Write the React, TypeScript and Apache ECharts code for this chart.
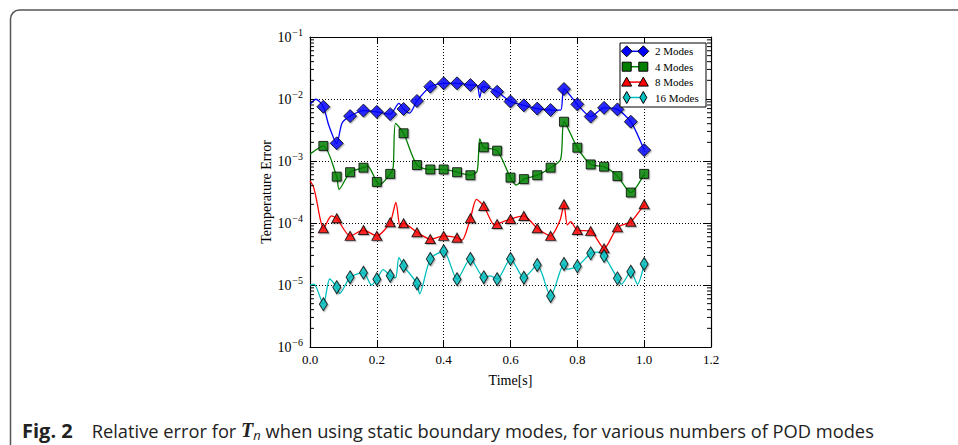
import React, { useEffect, useRef } from "react";
import * as echarts from "echarts";

// ---------- data ----------
const MARK_T = [0.04, 0.08, 0.12, 0.16, 0.2, 0.24, 0.28, 0.32, 0.36, 0.4, 0.44, 0.48, 0.52, 0.56, 0.6, 0.64, 0.68, 0.72, 0.76, 0.8, 0.84, 0.88, 0.92, 0.96, 1.0];

const MODES2_MARKS = [7.5e-3, 1.93e-3, 5.3e-3, 6.5e-3, 6.2e-3, 5.7e-3, 6.9e-3, 9.3e-3, 1.58e-2, 1.79e-2, 1.79e-2, 1.68e-2, 1.58e-2, 1.31e-2, 9.1e-3, 7.9e-3, 7.0e-3, 6.65e-3, 1.45e-2, 8.2e-3, 5.2e-3, 7.2e-3, 6.8e-3, 4.3e-3, 1.5e-3];
const MODES4_MARKS = [1.75e-3, 5.6e-4, 6.6e-4, 7.8e-4, 4.6e-4, 6.2e-4, 2.8e-3, 8.6e-4, 7.3e-4, 7.3e-4, 6.6e-4, 5.9e-4, 1.66e-3, 1.47e-3, 5.4e-4, 5.1e-4, 5.9e-4, 7.8e-4, 4.3e-3, 1.64e-3, 8.8e-4, 8.1e-4, 5.7e-4, 3.1e-4, 6.2e-4];
const MODES8_MARKS = [8.2e-5, 1.19e-4, 6.2e-5, 7.7e-5, 6.2e-5, 1.03e-4, 9.9e-5, 7.1e-5, 5.5e-5, 6.2e-5, 5.8e-5, 1.19e-4, 1.88e-4, 9.6e-5, 1.16e-4, 1.3e-4, 8.2e-5, 6.2e-5, 2.0e-4, 7.7e-5, 7.4e-5, 3.9e-5, 8.5e-5, 1.05e-4, 2.0e-4];
const MODES16_MARKS = [4.9e-6, 9.2e-6, 1.33e-5, 1.58e-5, 1.24e-5, 1.41e-5, 2.04e-5, 1.06e-5, 2.63e-5, 3.5e-5, 1.24e-5, 2.63e-5, 1.33e-5, 1.24e-5, 2.63e-5, 1.31e-5, 2.1e-5, 6.65e-6, 2.18e-5, 2.0e-5, 3.24e-5, 2.94e-5, 1.28e-5, 1.64e-5, 2.18e-5];

// fine-resolution curves
const MODES2_CURVE = [[0, 8.2e-3], [0.018, 9.9e-3], [0.04, 7.5e-3], [0.056, 3.8e-3], [0.08, 1.93e-3], [0.096, 4.1e-3], [0.12, 5.3e-3], [0.16, 6.5e-3], [0.2, 6.2e-3], [0.24, 5.7e-3], [0.266, 8.5e-3], [0.28, 6.9e-3], [0.298, 5.9e-3], [0.32, 9.3e-3], [0.36, 1.58e-2], [0.4, 1.79e-2], [0.44, 1.79e-2], [0.48, 1.68e-2], [0.5, 1.65e-2], [0.508, 1.06e-2], [0.515, 1.55e-2], [0.52, 1.58e-2], [0.56, 1.31e-2], [0.6, 9.1e-3], [0.64, 7.9e-3], [0.68, 7.0e-3], [0.72, 6.65e-3], [0.75, 6.6e-3], [0.76, 1.45e-2], [0.8, 8.2e-3], [0.84, 5.2e-3], [0.88, 7.2e-3], [0.92, 6.8e-3], [0.96, 4.3e-3], [1.0, 1.5e-3]];
const MODES4_CURVE = [[0, 1.29e-3], [0.04, 1.75e-3], [0.08, 5.6e-4], [0.087, 3.5e-4], [0.12, 6.6e-4], [0.16, 7.8e-4], [0.172, 8.3e-4], [0.2, 4.6e-4], [0.209, 4.2e-4], [0.24, 6.2e-4], [0.249, 8.0e-4], [0.256, 4.05e-3], [0.28, 2.8e-3], [0.32, 8.6e-4], [0.36, 7.3e-4], [0.4, 7.3e-4], [0.44, 6.6e-4], [0.48, 5.9e-4], [0.5, 6.8e-4], [0.508, 2.3e-3], [0.52, 1.66e-3], [0.56, 1.47e-3], [0.6, 5.4e-4], [0.617, 4.1e-4], [0.64, 5.1e-4], [0.68, 5.9e-4], [0.72, 7.8e-4], [0.75, 1.06e-3], [0.76, 4.3e-3], [0.8, 1.64e-3], [0.84, 8.8e-4], [0.88, 8.1e-4], [0.92, 5.7e-4], [0.96, 3.1e-4], [1.0, 6.2e-4]];
const MODES8_CURVE = [[0, 4.8e-4], [0.01, 3.9e-4], [0.02, 2.3e-4], [0.03, 1.2e-4], [0.04, 8.2e-5], [0.064, 1.3e-4], [0.08, 1.19e-4], [0.12, 6.2e-5], [0.16, 7.7e-5], [0.2, 6.2e-5], [0.24, 1.03e-4], [0.257, 2.15e-4], [0.27, 8.5e-5], [0.28, 9.9e-5], [0.32, 7.1e-5], [0.36, 5.5e-5], [0.4, 6.2e-5], [0.44, 5.8e-5], [0.455, 5.3e-5], [0.48, 1.19e-4], [0.498, 2.4e-4], [0.52, 1.88e-4], [0.552, 9.3e-5], [0.56, 9.6e-5], [0.6, 1.16e-4], [0.64, 1.3e-4], [0.68, 8.2e-5], [0.72, 6.2e-5], [0.748, 1.1e-4], [0.76, 2.0e-4], [0.77, 9.3e-5], [0.78, 1.05e-4], [0.8, 7.7e-5], [0.84, 7.4e-5], [0.88, 3.9e-5], [0.92, 8.5e-5], [0.96, 1.05e-4], [1.0, 2.0e-4]];
const MODES16_CURVE = [[0, 1.0e-5], [0.012, 1.03e-5], [0.04, 4.9e-6], [0.059, 1.25e-5], [0.08, 9.2e-6], [0.089, 7.3e-6], [0.12, 1.33e-5], [0.16, 1.58e-5], [0.184, 1.0e-5], [0.2, 1.24e-5], [0.219, 1.77e-5], [0.24, 1.41e-5], [0.256, 1.3e-5], [0.266, 2.75e-5], [0.28, 2.04e-5], [0.32, 1.06e-5], [0.328, 7.2e-6], [0.36, 2.63e-5], [0.4, 3.5e-5], [0.44, 1.24e-5], [0.48, 2.63e-5], [0.52, 1.33e-5], [0.54, 1.4e-5], [0.56, 1.24e-5], [0.6, 2.63e-5], [0.64, 1.31e-5], [0.68, 2.1e-5], [0.72, 6.65e-6], [0.76, 2.18e-5], [0.768, 1.8e-5], [0.8, 2.0e-5], [0.84, 3.24e-5], [0.86, 3.4e-5], [0.88, 2.94e-5], [0.92, 1.28e-5], [0.932, 1.03e-5], [0.96, 1.64e-5], [0.98, 1.03e-5], [1.0, 2.18e-5]];

const SERIES_NAMES = ["2 Modes", "4 Modes", "8 Modes", "16 Modes"];
const X_MIN = 0;
const X_MAX = 1.2;
const X_STEP = 0.2;
const Y_MIN = 1e-6;
const Y_MAX = 1e-1;
const CAPTION_FIG = "Fig. 2";
const CAPTION_A = "Relative error for ";
const CAPTION_B = " when using static boundary modes, for various numbers of POD modes";

// ---------- styles ----------
const COLORS = ["#0000ff", "#007f00", "#ff0000", "#00bfbf"];
const SYMBOLS = ["diamond", "rect", "triangle", "diamond"];
const SYMBOL_SIZES: any[] = [[13, 13], [9, 9], [10, 9], [8, 13]];
const SERIF = "'Liberation Serif', 'DejaVu Serif', serif";
const SANS = "'Open Sans', 'Noto Sans', sans-serif";

function minorTickValues() {
  const out: number[] = [];
  for (let e = -6; e <= -2; e++) {
    for (let k = 2; k <= 9; k++) out.push(k * Math.pow(10, e));
  }
  return out;
}

export default function App() {
  const ref = useRef<HTMLDivElement>(null);
  useEffect(() => {
    if (!ref.current) return;
    const chart = echarts.init(ref.current, null, { renderer: "svg" });

    const curves = [MODES2_CURVE, MODES4_CURVE, MODES8_CURVE, MODES16_CURVE];
    const marks = [MODES2_MARKS, MODES4_MARKS, MODES8_MARKS, MODES16_MARKS];

    const lineSeries = curves.map((c, i) => ({
      type: "line",
      name: SERIES_NAMES[i] + " line",
      data: c,
      smooth: 0.25,
      showSymbol: false,
      symbol: "none",
      lineStyle: { color: COLORS[i], width: 1.3 },
      z: 3,
    }));
    const markSeries = marks.map((m, i) => ({
      type: "scatter",
      name: SERIES_NAMES[i],
      data: MARK_T.map((t, j) => [t, m[j]]),
      symbol: SYMBOLS[i],
      symbolSize: SYMBOL_SIZES[i],
      itemStyle: {
        color: COLORS[i],
        borderColor: "#000",
        borderWidth: 1,
        shadowColor: "rgba(0,0,0,0.3)",
        shadowOffsetX: 1.2,
        shadowOffsetY: 1.2,
        shadowBlur: 0,
      },
      z: 4,
    }));

    const minorSeries = {
      type: "custom",
      name: "minor",
      data: minorTickValues().map((v) => [X_MIN, v]),
      silent: true,
      clip: false,
      renderItem: (params: any, api: any) => {
        const v = api.value(1);
        const pL = api.coord([X_MIN, v]);
        const pR = api.coord([X_MAX, v]);
        return {
          type: "group",
          children: [
            { type: "line", shape: { x1: pL[0], y1: pL[1], x2: pL[0] + 4, y2: pL[1] }, style: { stroke: "#000", lineWidth: 1 } },
            { type: "line", shape: { x1: pR[0] - 4, y1: pR[1], x2: pR[0], y2: pR[1] }, style: { stroke: "#000", lineWidth: 1 } },
          ],
        };
      },
      z: 5,
    };

    // legend (drawn by hand: line with marker at both ends)
    const legX = 620, legY = 43, legW = 86, legH = 64;
    const legendChildren: any[] = [
      { type: "rect", z: 50, shape: { x: legX, y: legY, width: legW, height: legH }, style: { fill: "#fff", stroke: "#000", lineWidth: 1 } },
    ];
    const markerShape = (i: number, cx: number, cy: number) => {
      const st = { fill: COLORS[i], stroke: "#000", lineWidth: 1 };
      if (i === 0) return { type: "polygon", z: 52, shape: { points: [[cx, cy - 5.5], [cx + 5.5, cy], [cx, cy + 5.5], [cx - 5.5, cy]] }, style: st };
      if (i === 1) return { type: "rect", z: 52, shape: { x: cx - 4.5, y: cy - 4.5, width: 9, height: 9 }, style: st };
      if (i === 2) return { type: "polygon", z: 52, shape: { points: [[cx, cy - 5], [cx + 5, cy + 4], [cx - 5, cy + 4]] }, style: st };
      return { type: "polygon", z: 52, shape: { points: [[cx, cy - 6], [cx + 3.5, cy], [cx, cy + 6], [cx - 3.5, cy]] }, style: st };
    };
    SERIES_NAMES.forEach((name, i) => {
      const cy = 51.3 + i * 15.4;
      legendChildren.push({ type: "line", z: 51, shape: { x1: 626.7, y1: cy, x2: 643.3, y2: cy }, style: { stroke: COLORS[i], lineWidth: 1.5 } });
      legendChildren.push(markerShape(i, 626.7, cy));
      legendChildren.push(markerShape(i, 643.3, cy));
      legendChildren.push({
        type: "text",
        z: 52,
        x: 655,
        y: cy,
        style: { text: name, fill: "#000", font: `11px ${SERIF}`, verticalAlign: "middle", align: "left" },
      });
    });

    const option: any = {
      animation: false,
      backgroundColor: "#fff",
      grid: { left: 310, right: 247, top: 37, bottom: 98, containLabel: false, outerBoundsMode: "none" },
      xAxis: [
        {
          type: "value",
          min: X_MIN,
          max: X_MAX,
          interval: X_STEP,
          position: "bottom",
          name: "Time[s]",
          nameLocation: "middle",
          nameGap: 26,
          nameTextStyle: { color: "#000", fontFamily: SERIF, fontSize: 14 },
          axisLine: { onZero: false, lineStyle: { color: "#000", width: 1.2 } },
          axisTick: { inside: true, length: 6, lineStyle: { color: "#000" } },
          axisLabel: { color: "#000", fontFamily: SERIF, fontSize: 13, margin: 6, formatter: (v: number) => v.toFixed(1) },
          splitLine: { show: true, lineStyle: { color: "#000", type: [1, 2], width: 1 } },
        },
        {
          type: "value",
          min: X_MIN,
          max: X_MAX,
          interval: X_STEP,
          position: "top",
          axisLine: { onZero: false, lineStyle: { color: "#000", width: 1.2 } },
          axisTick: { inside: true, length: 6, lineStyle: { color: "#000" } },
          axisLabel: { show: false },
          splitLine: { show: false },
        },
      ],
      yAxis: [
        {
          type: "log",
          logBase: 10,
          min: Y_MIN,
          max: Y_MAX,
          position: "left",
          name: "Temperature Error",
          nameLocation: "middle",
          nameGap: 35,
          nameRotate: 90,
          nameTextStyle: { color: "#000", fontFamily: SERIF, fontSize: 14 },
          axisLine: { onZero: false, lineStyle: { color: "#000", width: 1.2 } },
          axisTick: { inside: true, length: 7, lineStyle: { color: "#000" } },
          axisLabel: {
            color: "#000",
            margin: 7,
            formatter: (v: number) => {
              const e = Math.round(Math.log10(v));
              return `{b|10}{s|\u2212${Math.abs(e)}}`;
            },
            rich: {
              b: { fontFamily: SERIF, fontSize: 14, color: "#000" },
              s: { fontFamily: SERIF, fontSize: 10, color: "#000", padding: [0, 0, 9, 1] },
            },
          },
          splitLine: { show: true, lineStyle: { color: "#000", type: [1, 2], width: 1 } },
        },
        {
          type: "log",
          logBase: 10,
          min: Y_MIN,
          max: Y_MAX,
          position: "right",
          axisLine: { onZero: false, lineStyle: { color: "#000", width: 1.2 } },
          axisTick: { inside: true, length: 7, lineStyle: { color: "#000" } },
          axisLabel: { show: false },
          splitLine: { show: false },
        },
      ],
      series: [...lineSeries, ...markSeries, minorSeries],
      graphic: [
        {
          type: "rect",
          shape: { x: 10.5, y: 10, width: 1100, height: 600, r: 9 },
          style: { fill: "none", stroke: "#555", lineWidth: 1.5 },
          z: 10,
          silent: true,
        },
        ...legendChildren,
        {
          type: "text",
          x: 22,
          y: 430,
          z: 20,
          style: {
            text: `{fig|${CAPTION_FIG}}{r|${CAPTION_A}}{T|T}{sub|n}{r|${CAPTION_B}}`,
            verticalAlign: "middle",
            align: "left",
            rich: {
              fig: { fontFamily: SANS, fontWeight: "bold", fontSize: 20, fill: "#222", padding: [0, 19, 0, 0] },
              r: { fontFamily: SANS, fontSize: 18.3, fill: "#222" },
              T: { fontFamily: SERIF, fontWeight: "bold", fontStyle: "italic", fontSize: 20, fill: "#222" },
              sub: { fontFamily: SANS, fontStyle: "italic", fontSize: 13, fill: "#222", padding: [10, 0, 0, 0] },
            },
          },
        },
      ],
    };
    chart.setOption(option);
    return () => chart.dispose();
  }, []);
  return <div ref={ref} style={{ position: "absolute", left: 0, top: 0, width: 958, height: 445 }} />;
}
